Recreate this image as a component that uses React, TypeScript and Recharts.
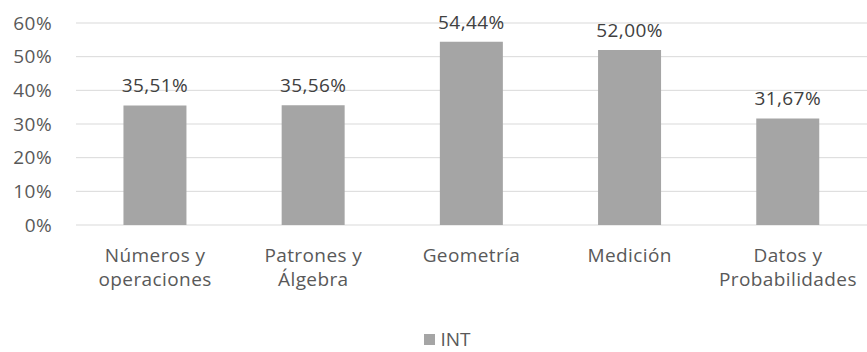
import { BarChart, Bar, XAxis, YAxis, CartesianGrid, Legend, LabelList } from 'recharts'

const categories = ['Números y\noperaciones', 'Patrones y\nÁlgebra', 'Geometría', 'Medición', 'Datos y\nProbabilidades']
const intValues = [0.3551, 0.3556, 0.5444, 0.52, 0.3167]
const yTicks = [0, 0.1, 0.2, 0.3, 0.4, 0.5, 0.6]

const chartData = categories.map((name, i) => ({ name, INT: intValues[i] }))

const FONT = '"Open Sans", sans-serif'
const pct = (v: number, digits: number) => `${(v * 100).toFixed(digits).replace('.', ',')}%`

function CategoryTick({ x, y, payload }: { x?: number; y?: number; payload?: { value: string } }) {
  const lines = String(payload?.value ?? '').split('\n')
  return (
    <text x={x} y={y} textAnchor="middle" fill="#595959" fontSize={19} fontFamily={FONT} letterSpacing={0.4}>
      {lines.map((l, i) => (
        <tspan key={i} x={x} dy={i === 0 ? 37 : 24}>{l}</tspan>
      ))}
    </text>
  )
}

function LegendBox() {
  return (
    <div style={{ display: 'flex', justifyContent: 'center', alignItems: 'center', fontFamily: FONT, fontSize: 19, lineHeight: '22px', color: '#595959', height: 26, paddingLeft: 28 }}>
      <span style={{ width: 11, height: 11, background: '#a5a5a5', marginRight: 5, display: 'inline-block' }} />
      <span>INT</span>
    </div>
  )
}

export default function App() {
  return (
    <div style={{ position: 'absolute', left: 0, top: 0, background: '#fff' }}>
      <BarChart width={867} height={352} data={chartData} margin={{ top: 23, right: 0, bottom: 0, left: 0 }} barCategoryGap="30%">
        <CartesianGrid stroke="#d9d9d9" vertical={false} />
        <XAxis dataKey="name" axisLine={false} tickLine={false} tickSize={0} tickMargin={0} height={101} interval={0} tick={<CategoryTick />} />
        <YAxis
          domain={[0, 0.6]}
          ticks={yTicks}
          axisLine={false}
          tickLine={false}
          tickSize={0}
          tickMargin={24}
          width={76}
          tickFormatter={(v: number) => pct(v, 0)}
          tick={{ fontSize: 19, fill: '#595959', fontFamily: FONT, letterSpacing: 0.4 }}
        />
        <Legend verticalAlign="bottom" height={26} content={<LegendBox />} />
        <Bar dataKey="INT" fill="#a5a5a5" isAnimationActive={false}>
          <LabelList
            dataKey="INT"
            position="top"
            offset={13}
            formatter={(v: unknown) => pct(v as number, 2)}
            style={{ fontSize: 19, fill: '#404040', fontFamily: FONT, letterSpacing: 0.4 }}
          />
        </Bar>
      </BarChart>
    </div>
  )
}
